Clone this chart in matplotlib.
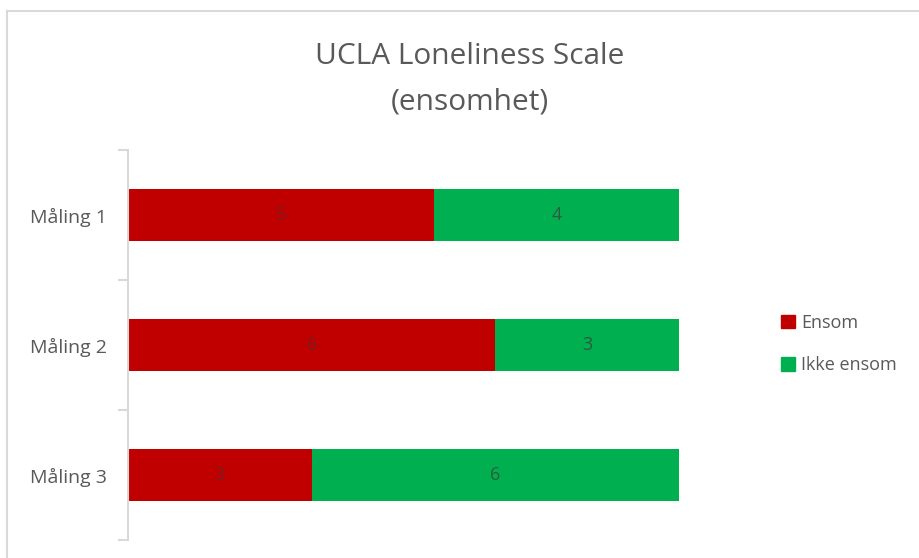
import matplotlib
matplotlib.use("Agg")
import matplotlib.pyplot as plt
from matplotlib.lines import Line2D
from matplotlib.patches import Patch

plt.rcParams['font.family'] = ['Open Sans', 'DejaVu Sans']

# UCLA loneliness results per measurement
categories = ["Måling 1", "Måling 2", "Måling 3"]
ensom = [5, 6, 3]
ikke_ensom = [4, 3, 6]
series_names = ["Ensom", "Ikke ensom"]

red = "#c00000"
green = "#00b050"
text_gray = "#595959"

fig = plt.figure(figsize=(9.2, 5.58), dpi=100)

# light frame line along top and left edge
fig.add_artist(Line2D([7 / 920, 1], [1 - 10.5 / 558] * 2, color="#d9d9d9", lw=1.5))
fig.add_artist(Line2D([7.5 / 920] * 2, [0, 1 - 10.5 / 558], color="#d9d9d9", lw=1.5))

ax = fig.add_axes([128 / 920, 1 - 540 / 558, 551 / 920, 390 / 558])

y = range(len(categories))
ax.barh(y, ensom, height=0.4, color=red, label=series_names[0])
ax.barh(y, ikke_ensom, left=ensom, height=0.4, color=green, label=series_names[1])

for i in y:
    ax.text(ensom[i] / 2, i, str(ensom[i]), ha="center", va="center",
            fontsize=13, color="#7a1c1c")
    ax.text(ensom[i] + ikke_ensom[i] / 2, i, str(ikke_ensom[i]), ha="center",
            va="center", fontsize=13, color="#2e5a3c")

ax.set_xlim(0, 9)
ax.set_ylim(2.5, -0.5)
ax.set_yticks(list(y))
ax.set_yticklabels(categories, fontsize=14, color=text_gray)
ax.tick_params(axis="y", which="major", length=0, pad=15)
ax.set_yticks([-0.5, 0.5, 1.5, 2.5], minor=True)
ax.tick_params(axis="y", which="minor", length=7, color="#d9d9d9", width=1.5)
ax.set_xticks([])
for side in ["top", "right", "bottom"]:
    ax.spines[side].set_visible(False)
ax.spines["left"].set_color("#d9d9d9")
ax.spines["left"].set_linewidth(1.5)

fig.text(470 / 920, 1 - 57 / 558, "UCLA Loneliness Scale", ha="center", va="center",
         fontsize=21.5, color=text_gray)
fig.text(470 / 920, 1 - 102 / 558, "(ensomhet)", ha="center", va="center",
         fontsize=21.5, color=text_gray)

handles = [Patch(color=red), Patch(color=green)]
fig.legend(handles, series_names, loc="center left", bbox_to_anchor=(765 / 920, 1 - 344 / 558),
           frameon=False, fontsize=13, labelcolor=text_gray, handlelength=0.75,
           handleheight=0.75, handletextpad=0.35, labelspacing=1.35)

fig.savefig("out.png", dpi=100)
